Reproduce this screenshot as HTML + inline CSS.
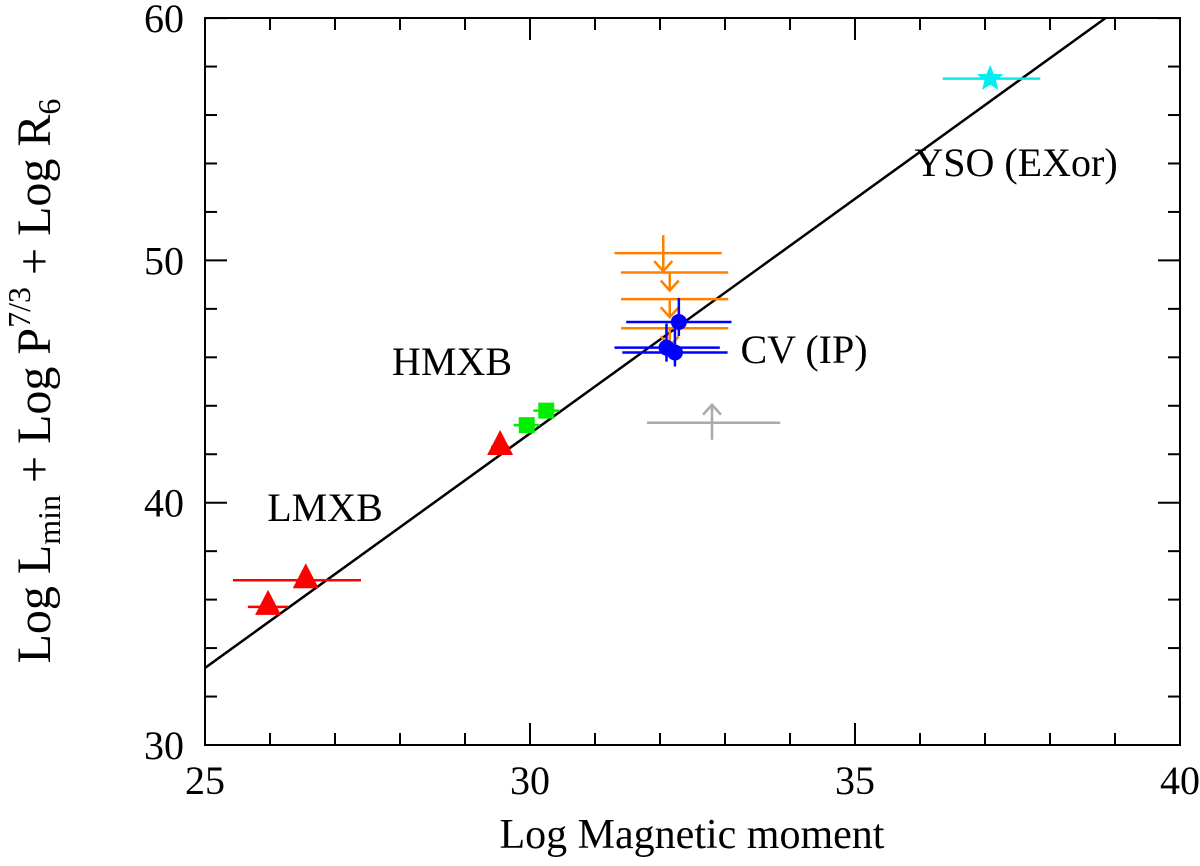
<!DOCTYPE html>
<html><head><meta charset="utf-8"><style>
body{margin:0;background:#fff}
svg text{font-family:"Liberation Serif",serif;fill:#000}
</style></head><body>
<svg id="c" width="1200" height="861"></svg>
<script>
const xTicks=[25,30,35,40];
const yTicks=[30,40,50,60];
const lmxbX=[25.97,26.55,29.54];const lmxbY=[35.7,36.8,42.3];const lmxbXlo=[25.66,25.43,29.4];const lmxbXhi=[26.28,27.4,29.68];
const hmxbX=[29.95,30.25];const hmxbY=[43.2,43.8];
const cvX=[32.29,32.1,32.23];const cvY=[47.46,46.4,46.2];const cvXlo=[31.48,31.3,31.42];const cvXhi=[33.1,32.92,33.04];
const limX=[32.05,32.15,32.15,32.15];const limY=[50.3,49.5,48.4,47.2];const limXlo=[31.3,31.4,31.4,31.4];const limXhi=[32.95,33.05,33.05,33.05];
const grayX=[32.8];const grayY=[43.3];const grayXlo=[31.8];const grayXhi=[33.85];
const ysoX=[37.08];const ysoY=[57.5];const ysoXlo=[36.35];const ysoXhi=[37.85];
const fitA=33.18,fitB=1.936;
const X=v=>205+(v-25)*65, Y=v=>745-(v-30)*24.23;
const svg=document.getElementById('c');const NS='http://www.w3.org/2000/svg';
function mk(t,a,p){const e=document.createElementNS(NS,t);for(const k in a)e.setAttribute(k,a[k]);(p||svg).appendChild(e);return e;}
function line(x1,y1,x2,y2,c,w,n){const e=mk('line',{x1,y1,x2,y2,stroke:c,'stroke-width':w});return e;}
function txt(x,y,s,size,anchor,n){const e=mk('text',{x,y,'font-size':size,'text-anchor':anchor});e.textContent=s;return e;}
const fr=mk('rect',{x:205,y:18,width:975,height:727,fill:'none',stroke:'#000','stroke-width':2});

for(let v=25;v<=40;v++){const big=v%5==0,l=big?22:12;line(X(v),745,X(v),745-l,'#000',2,'x-tick');line(X(v),18,X(v),18+l,'#000',2,'x-tick-top');}
for(let v=30;v<=60;v+=2){const big=v%10==0,l=big?22:12;line(205,Y(v),205+l,Y(v),'#000',2,'y-tick');line(1180,Y(v),1180-l,Y(v),'#000',2,'y-tick-right');}
xTicks.forEach(v=>txt(X(v),794,v,40,'middle','x-tick-label'));
yTicks.forEach(v=>txt(184,Y(v)+14,v,40,'end','y-tick-label'));
txt(692,848,'Log Magnetic moment',42,'middle','x-axis-title');
const yt=mk('text',{transform:'translate(50,381) rotate(-90)','font-size':48,'text-anchor':'middle'});

yt.innerHTML='Log L<tspan font-size="32" dy="10">min</tspan><tspan dy="-10"> + Log P</tspan><tspan font-size="32" dy="-20">7/3</tspan><tspan dy="20"> + Log R</tspan><tspan font-size="32" dy="10">6</tspan>';
const xe=25+(60-fitA)/fitB;
line(X(25),Y(fitA),X(xe),Y(60),'#000',2.5,'fit-line');
function xerr(xs,lo,hi,ys,c,n){xs.forEach((_,i)=>line(X(lo[i]),Y(ys[i]),X(hi[i]),Y(ys[i]),c,2.5,n));}
xerr(lmxbX,lmxbXlo,lmxbXhi,lmxbY,'#f00','lmxb-error');
lmxbX.forEach((v,i)=>{const x=X(v),y=Y(lmxbY[i]);const p=mk('polygon',{points:`${x},${y-17} ${x-13},${y+8} ${x+13},${y+8}`,fill:'#f00'});});
hmxbX.forEach((v,i)=>{const x=X(v),y=Y(hmxbY[i]);line(x-13,y,x+13,y,'#0e0',2.5,'hmxb-error');const r=mk('rect',{x:x-8,y:y-8,width:16,height:16,fill:'#0e0'});});
xerr(limX,limXlo,limXhi,limY,'#ff8000','cv-limit-error');
limX.forEach((v,i)=>{const x=X(v),y=Y(limY[i]);line(x,y-(i==0?18:0),x,y+18,'#ff8000',2.5,'cv-limit-arrow');const p=mk('polyline',{points:`${x-9},${y+8} ${x},${y+18} ${x+9},${y+8}`,fill:'none',stroke:'#ff8000','stroke-width':2.5});});
xerr(cvX,cvXlo,cvXhi,cvY,'#00f','cv-error');
cvX.forEach((v,i)=>{const x=X(v),y=Y(cvY[i]);line(x,y-24,x,y+14,'#00f',2.5,'cv-yerror');const c=mk('circle',{cx:x,cy:y,r:8,fill:'#00f'});});
xerr(grayX,grayXlo,grayXhi,grayY,'#aaa','gray-limit-error');
grayX.forEach((v,i)=>{const x=X(v),y=Y(grayY[i]);line(x,y+17,x,y-18,'#aaa',2.5,'gray-limit-arrow');const p=mk('polyline',{points:`${x-9},${y-8} ${x},${y-18} ${x+9},${y-8}`,fill:'none',stroke:'#aaa','stroke-width':2.5});});
xerr(ysoX,ysoXlo,ysoXhi,ysoY,'#0ee','yso-error');
ysoX.forEach((v,i)=>{const x=X(v),y=Y(ysoY[i]);let pts=[];for(let k=0;k<10;k++){const r=k%2?6:14,a=-Math.PI/2+k*Math.PI/5;pts.push((x+r*Math.cos(a)).toFixed(1)+','+(y+r*Math.sin(a)).toFixed(1));}const p=mk('polygon',{points:pts.join(' '),fill:'#0ee'});});
txt(325,521,'LMXB',40,'middle','lmxb-label');
txt(452,375,'HMXB',40,'middle','hmxb-label');
txt(804,363,'CV (IP)',40,'middle','cv-label');
txt(1016,176,'YSO (EXor)',40,'middle','yso-label');
</script>
</body></html>
